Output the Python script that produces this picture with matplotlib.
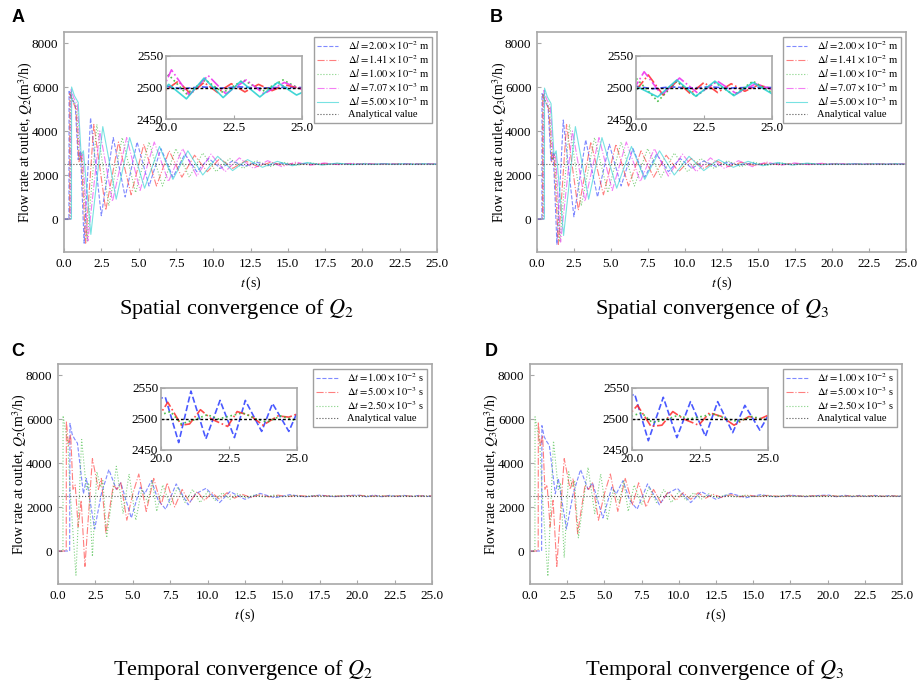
import matplotlib
matplotlib.use('Agg')
import matplotlib.pyplot as plt
import numpy as np

plt.rcParams['font.family'] = ['Liberation Serif', 'DejaVu Serif']
plt.rcParams['mathtext.fontset'] = 'stix'

# --- axis ticks / labels ---
X_TICKS = [0.0, 2.5, 5.0, 7.5, 10.0, 12.5, 15.0, 17.5, 20.0, 22.5, 25.0]
Y_TICKS = [0, 2000, 4000, 6000, 8000]
INSET_X_TICKS = [20.0, 22.5, 25.0]
INSET_Y_TICKS = [2450, 2500, 2550]
ANALYTICAL = 2500

SPATIAL_LABELS = [r'$\Delta l = 2.00 \times 10^{-2}$ m', r'$\Delta l = 1.41 \times 10^{-2}$ m',
                  r'$\Delta l = 1.00 \times 10^{-2}$ m', r'$\Delta l = 7.07 \times 10^{-3}$ m',
                  r'$\Delta l = 5.00 \times 10^{-3}$ m']
TEMPORAL_LABELS = [r'$\Delta t = 1.00 \times 10^{-2}$ s', r'$\Delta t = 5.00 \times 10^{-3}$ s',
                   r'$\Delta t = 2.50 \times 10^{-3}$ s']

# --- panel A: spatial convergence of Q2 (t, Q) turning points ---
A_BLUE = [(0, 0), (0.33, 0), (0.34, 5800), (0.5, 5500), (0.75, 5200), (0.95, 2700), (1.1, 3100), (1.35, -1100),
          (1.78, 4600), (2.5, 150), (3.3, 3700), (4.1, 1000), (4.9, 3500), (5.7, 1500), (6.5, 3200), (7.3, 1900),
          (8.1, 2950), (8.9, 2150), (9.7, 2750), (10.5, 2300), (11.3, 2640), (12.1, 2390), (12.9, 2580),
          (13.7, 2440), (14.5, 2540), (15.3, 2470), (16.1, 2520), (17.0, 2490), (18.0, 2505), (19.0, 2498),
          (20.0, 2502), (20.6, 2498), (21.3, 2501), (22.0, 2499), (22.7, 2501), (23.4, 2499), (24.1, 2500), (25.0, 2500)]
A_RED = [(0, 0), (0.38, 0), (0.39, 5700), (0.55, 5400), (0.8, 5000), (1.0, 2600), (1.15, 3000), (1.45, -1100),
         (2.0, 4300), (2.8, 400), (3.65, 3500), (4.5, 1100), (5.35, 3400), (6.2, 1500), (7.05, 3100), (7.9, 1900),
         (8.75, 2900), (9.6, 2150), (10.45, 2750), (11.3, 2300), (12.15, 2640), (13.0, 2380), (13.85, 2580),
         (14.7, 2440), (15.55, 2540), (16.4, 2470), (17.3, 2520), (18.2, 2490), (19.1, 2508), (19.9, 2493),
         (20.45, 2510), (20.9, 2490), (21.4, 2508), (21.9, 2492), (22.4, 2506), (22.9, 2493), (23.4, 2505),
         (23.9, 2495), (24.4, 2504), (25.0, 2498)]
A_GREEN = [(0, 0), (0.42, 0), (0.43, 5750), (0.6, 5400), (0.85, 5100), (1.05, 2700), (1.2, 2900), (1.55, -1000),
           (2.2, 4300), (3.0, 600), (3.9, 3700), (4.8, 1200), (5.7, 3500), (6.6, 1500), (7.5, 3200), (8.4, 1900),
           (9.3, 3000), (10.2, 2150), (11.1, 2750), (12.0, 2300), (12.9, 2650), (13.8, 2380), (14.7, 2580),
           (15.6, 2440), (16.5, 2550), (17.4, 2470), (18.3, 2530), (19.2, 2480), (20.1, 2520), (20.75, 2490),
           (21.45, 2512), (22.1, 2492), (22.85, 2512), (23.55, 2494), (24.3, 2512), (25.0, 2496)]
A_MAGENTA = [(0, 0), (0.46, 0), (0.47, 5900), (0.65, 5500), (0.9, 5200), (1.1, 2800), (1.25, 3000), (1.6, -1000),
             (2.4, 4000), (3.25, 800), (4.2, 3700), (5.1, 1300), (6.05, 3500), (7.0, 1700), (7.95, 3200), (8.9, 1950),
             (9.85, 2950), (10.8, 2150), (11.75, 2780), (12.7, 2300), (13.65, 2650), (14.6, 2380), (15.55, 2590),
             (16.5, 2440), (17.45, 2550), (18.4, 2470), (19.35, 2535), (19.75, 2485), (20.2, 2528), (20.85, 2488),
             (21.55, 2519), (22.2, 2490), (22.95, 2512), (23.6, 2490), (24.35, 2508), (25.0, 2497)]
A_CYAN = [(0, 0), (0.5, 0), (0.51, 6000), (0.7, 5600), (0.95, 5300), (1.15, 2900), (1.3, 3100), (1.8, -700),
          (2.6, 4200), (3.5, 900), (4.4, 3700), (5.4, 1400), (6.4, 3300), (7.3, 1800), (8.3, 3100), (9.3, 2000),
          (10.3, 2850), (11.3, 2200), (12.3, 2700), (13.3, 2350), (14.3, 2620), (15.3, 2420), (16.3, 2570),
          (17.3, 2450), (18.3, 2540), (19.3, 2470), (20.1, 2505), (20.75, 2482), (21.4, 2515), (22.1, 2484),
          (22.75, 2510), (23.45, 2485), (24.1, 2508), (24.8, 2488), (25.0, 2492)]

# --- panel B: spatial convergence of Q3 ---
B_BLUE = [(0, 0), (0.33, 0), (0.34, 5700), (0.5, 5400), (0.75, 5100), (0.95, 2600), (1.1, 3000), (1.35, -1150),
          (1.78, 4500), (2.5, 100), (3.3, 3600), (4.1, 1000), (4.9, 3400), (5.7, 1500), (6.5, 3200), (7.3, 1900),
          (8.1, 2950), (8.9, 2150), (9.7, 2750), (10.5, 2300), (11.3, 2640), (12.1, 2390), (12.9, 2580),
          (13.7, 2440), (14.5, 2540), (15.3, 2470), (16.1, 2520), (17.0, 2490), (18.0, 2505), (19.0, 2498),
          (20.0, 2502), (20.6, 2498), (21.3, 2501), (22.0, 2499), (22.7, 2501), (23.4, 2499), (24.1, 2500), (25.0, 2500)]
B_RED = [(0, 0), (0.38, 0), (0.39, 5650), (0.55, 5350), (0.8, 5000), (1.0, 2600), (1.15, 2950), (1.45, -1150),
         (2.0, 4300), (2.8, 400), (3.65, 3500), (4.5, 1100), (5.35, 3400), (6.2, 1500), (7.05, 3100), (7.9, 1900),
         (8.75, 2900), (9.6, 2150), (10.45, 2750), (11.3, 2300), (12.15, 2640), (13.0, 2380), (13.85, 2580),
         (14.7, 2440), (15.55, 2540), (16.4, 2470), (17.3, 2520), (18.2, 2490), (19.1, 2508), (19.9, 2490),
         (20.45, 2520), (21.0, 2488), (21.5, 2510), (22.0, 2490), (22.5, 2508), (23.0, 2492), (23.5, 2506),
         (24.0, 2494), (24.5, 2504), (25.0, 2498)]
B_GREEN = [(0, 0), (0.42, 0), (0.43, 5700), (0.6, 5350), (0.85, 5050), (1.05, 2700), (1.2, 2900), (1.55, -1050),
           (2.2, 4300), (3.0, 600), (3.9, 3700), (4.8, 1200), (5.7, 3500), (6.6, 1500), (7.5, 3200), (8.4, 1900),
           (9.3, 3000), (10.2, 2150), (11.1, 2750), (12.0, 2300), (12.9, 2650), (13.8, 2380), (14.7, 2580),
           (15.6, 2440), (16.5, 2550), (17.4, 2470), (18.3, 2530), (19.2, 2480), (20.0, 2515), (20.8, 2478),
           (21.5, 2510), (22.2, 2486), (22.9, 2508), (23.6, 2488), (24.3, 2510), (25.0, 2492)]
B_MAGENTA = [(0, 0), (0.46, 0), (0.47, 5850), (0.65, 5450), (0.9, 5150), (1.1, 2800), (1.25, 3000), (1.6, -1050),
             (2.4, 4000), (3.25, 800), (4.2, 3700), (5.1, 1300), (6.05, 3500), (7.0, 1700), (7.95, 3200), (8.9, 1950),
             (9.85, 2950), (10.8, 2150), (11.75, 2780), (12.7, 2300), (13.65, 2650), (14.6, 2380), (15.55, 2590),
             (16.5, 2440), (17.45, 2550), (18.4, 2470), (19.35, 2535), (19.75, 2485), (20.3, 2525), (20.95, 2488),
             (21.6, 2515), (22.3, 2490), (23.0, 2510), (23.7, 2490), (24.4, 2506), (25.0, 2497)]
B_CYAN = [(0, 0), (0.5, 0), (0.51, 5950), (0.7, 5550), (0.95, 5250), (1.15, 2900), (1.3, 3100), (1.8, -750),
          (2.6, 4200), (3.5, 900), (4.4, 3700), (5.4, 1400), (6.4, 3300), (7.3, 1800), (8.3, 3100), (9.3, 2000),
          (10.3, 2850), (11.3, 2200), (12.3, 2700), (13.3, 2350), (14.3, 2620), (15.3, 2420), (16.3, 2570),
          (17.3, 2450), (18.3, 2540), (19.3, 2470), (20.1, 2500), (20.8, 2485), (21.5, 2512), (22.2, 2486),
          (22.9, 2510), (23.6, 2487), (24.3, 2508), (25.0, 2490)]

# --- panel C: temporal convergence of Q2 ---
C_BLUE = [(0, 0), (0.78, 0), (0.8, 5800), (0.95, 5300), (1.1, 5100), (1.3, 4900), (1.7, 2600), (1.9, 3300),
          (2.45, 1000), (2.9, 2600), (3.4, 3700), (3.9, 2800), (4.2, 3100), (4.9, 1500), (5.5, 2900), (5.8, 2600),
          (6.25, 3200), (6.7, 2300), (7.2, 1900), (7.9, 3050), (8.7, 2100), (9.2, 2600), (9.9, 2850), (10.8, 2200),
          (11.5, 2700), (12.5, 2350), (13.5, 2620), (14.5, 2420), (15.5, 2560), (16.5, 2460), (17.5, 2540),
          (18.5, 2470), (19.5, 2530), (20.16, 2535), (20.65, 2462), (21.1, 2545), (21.65, 2468), (22.17, 2530),
          (22.7, 2470), (23.1, 2530), (23.7, 2480), (24.1, 2525), (24.7, 2480), (25.0, 2510)]
C_RED = [(0, 0), (0.55, 0), (0.56, 5900), (0.7, 4800), (0.85, 5300), (1.0, 2800), (1.15, 3000), (1.35, 1100),
         (1.55, 2300), (1.8, -700), (2.3, 4200), (2.7, 2800), (2.9, 3300), (3.2, 800), (3.7, 3000), (3.95, 2800),
         (4.2, 3100), (4.6, 1400), (5.0, 2600), (5.4, 3500), (5.9, 1800), (6.4, 3300), (6.9, 2100), (7.3, 3100),
         (7.8, 2000), (8.3, 2800), (8.8, 2200), (9.3, 2700), (9.8, 2300), (10.3, 2650), (10.8, 2350), (11.3, 2650),
         (11.8, 2400), (12.3, 2580), (12.9, 2430), (13.5, 2560), (14.1, 2460), (14.7, 2540), (15.3, 2470),
         (16.0, 2530), (16.8, 2480), (17.6, 2520), (18.4, 2490), (19.2, 2512), (20.0, 2510), (20.25, 2527),
         (20.75, 2490), (21.05, 2492), (21.45, 2515), (21.85, 2500), (22.45, 2488), (22.8, 2512), (23.3, 2505),
         (23.75, 2490), (24.3, 2505), (24.7, 2503), (25.0, 2508)]
C_GREEN = [(0, 0), (0.33, 0), (0.34, 6150), (0.5, 5500), (0.65, 5000), (0.8, 2800), (1.2, -1100), (1.58, 5070),
           (1.9, 2800), (2.05, 3100), (2.3, -250), (2.6, 3600), (2.85, 2900), (3.0, 3200), (3.25, 600), (3.9, 3850),
           (4.35, 1700), (4.75, 3500), (5.2, 1400), (5.6, 2800), (6.0, 2200), (6.3, 3200), (6.6, 1800), (7.0, 3000),
           (7.5, 2100), (8.0, 2900), (8.5, 2200), (9.0, 2800), (9.5, 2200), (10.0, 2700), (10.5, 2300), (11.0, 2650),
           (11.5, 2350), (12.0, 2600), (12.6, 2420), (13.2, 2560), (13.8, 2450), (14.4, 2540), (15.0, 2470),
           (15.7, 2530), (16.4, 2480), (17.1, 2520), (17.8, 2490), (18.5, 2510), (19.2, 2495), (20.0, 2507),
           (20.35, 2512), (20.75, 2492), (21.3, 2500), (21.7, 2507), (22.1, 2500), (23.0, 2510), (23.5, 2500),
           (23.9, 2495), (24.4, 2505), (25.0, 2497)]

# --- panel D: temporal convergence of Q3 ---
D_BLUE = [(0, 0), (0.78, 0), (0.8, 5700), (0.95, 5200), (1.1, 5000), (1.3, 4800), (1.7, 2600), (1.9, 3300),
          (2.45, 1000), (2.9, 2600), (3.4, 3700), (3.9, 2800), (4.2, 3100), (4.9, 1500), (5.5, 2900), (5.8, 2600),
          (6.25, 3200), (6.7, 2300), (7.2, 1900), (7.9, 3050), (8.7, 2100), (9.2, 2600), (9.9, 2850), (10.8, 2200),
          (11.5, 2700), (12.5, 2350), (13.5, 2620), (14.5, 2420), (15.5, 2560), (16.5, 2460), (17.5, 2540),
          (18.5, 2470), (19.5, 2530), (20.1, 2540), (20.6, 2465), (21.15, 2535), (21.65, 2470), (22.15, 2528),
          (22.7, 2472), (23.15, 2528), (23.7, 2478), (24.15, 2522), (24.7, 2482), (25.0, 2505)]
D_RED = [(0, 0), (0.55, 0), (0.56, 5850), (0.7, 4750), (0.85, 5250), (1.0, 2800), (1.15, 3000), (1.35, 1100),
         (1.55, 2300), (1.8, -700), (2.3, 4200), (2.7, 2800), (2.9, 3300), (3.2, 800), (3.7, 3000), (3.95, 2800),
         (4.2, 3100), (4.6, 1400), (5.0, 2600), (5.4, 3500), (5.9, 1800), (6.4, 3300), (6.9, 2100), (7.3, 3100),
         (7.8, 2000), (8.3, 2800), (8.8, 2200), (9.3, 2700), (9.8, 2300), (10.3, 2650), (10.8, 2350), (11.3, 2650),
         (11.8, 2400), (12.3, 2580), (12.9, 2430), (13.5, 2560), (14.1, 2460), (14.7, 2540), (15.3, 2470),
         (16.0, 2530), (16.8, 2480), (17.6, 2520), (18.4, 2490), (19.2, 2512), (20.0, 2512), (20.2, 2522),
         (20.7, 2488), (21.1, 2490), (21.5, 2512), (21.9, 2500), (22.45, 2490), (22.85, 2510), (23.3, 2504),
         (23.75, 2490), (24.3, 2504), (24.7, 2500), (25.0, 2506)]
D_GREEN = [(0, 0), (0.33, 0), (0.34, 6100), (0.5, 5450), (0.65, 5000), (0.8, 2800), (1.2, -1150), (1.58, 5000),
           (1.9, 2800), (2.05, 3100), (2.3, -300), (2.6, 3600), (2.85, 2900), (3.0, 3200), (3.25, 600), (3.9, 3800),
           (4.35, 1700), (4.75, 3500), (5.2, 1400), (5.6, 2800), (6.0, 2200), (6.3, 3200), (6.6, 1800), (7.0, 3000),
           (7.5, 2100), (8.0, 2900), (8.5, 2200), (9.0, 2800), (9.5, 2200), (10.0, 2700), (10.5, 2300), (11.0, 2650),
           (11.5, 2350), (12.0, 2600), (12.6, 2420), (13.2, 2560), (13.8, 2450), (14.4, 2540), (15.0, 2470),
           (15.7, 2530), (16.4, 2480), (17.1, 2520), (17.8, 2490), (18.5, 2510), (19.2, 2495), (20.0, 2505),
           (20.35, 2510), (20.75, 2494), (21.3, 2500), (21.7, 2506), (22.1, 2500), (23.0, 2508), (23.5, 2500),
           (23.9, 2496), (24.4, 2504), (25.0, 2498)]

SPATIAL_STYLE = [('#2a3cff', '--'), ('#ff2a2a', '-.'), ('#2fb52f', ':'), ('#ee2aee', '-.'), ('#1fcfcf', '-')]
TEMPORAL_STYLE = [('#2a3cff', '--'), ('#ff2a2a', '-.'), ('#2fb52f', ':')]

W, H = 921, 684
fig = plt.figure(figsize=(W / 100, H / 100), dpi=100)


def px_rect(left, top, right, bottom):
    """Convert pixel box to figure fraction rect."""
    return [left / W, 1 - bottom / H, (right - left) / W, (bottom - top) / H]


def style_axes(ax):
    for sp in ax.spines.values():
        sp.set_color('#a8a8a8')
        sp.set_linewidth(1.2)
    ax.tick_params(direction='in', length=3, color='#a8a8a8', labelsize=9.5, pad=4)


def draw_panel(rect, inset_rect, series, styles, labels, ylabel, caption, cap_xy, letter, letter_xy):
    ax = fig.add_axes(px_rect(*rect))
    for data, (col, ls), lab in zip(series, styles, labels):
        arr = np.array(data, dtype=float)
        ax.plot(arr[:, 0], arr[:, 1], color=col, ls=ls, lw=0.8, alpha=0.6, label=lab)
    ax.plot([0, 25], [ANALYTICAL, ANALYTICAL], color='#555555', ls=':', lw=0.8, label='Analytical value')
    ax.set_xlim(0, 25)
    ax.set_ylim(-1500, 8500)
    ax.set_xticks(X_TICKS)
    ax.set_xticklabels(['%.1f' % v for v in X_TICKS])
    ax.set_yticks(Y_TICKS)
    ax.set_xlabel(r'$t\,$(s)', fontsize=10)
    ax.set_ylabel(ylabel, fontsize=10)
    ax.yaxis.set_label_coords(-0.077, 0.5)
    style_axes(ax)
    leg = ax.legend(loc='upper right', fontsize=7.6, fancybox=False, edgecolor='#888888',
                    handlelength=2.0, labelspacing=0.15, borderpad=0.3, borderaxespad=0.45,
                    handletextpad=0.9)
    leg.get_frame().set_linewidth(1.0)

    ins = fig.add_axes(px_rect(*inset_rect))
    for data, (col, ls) in zip(series, styles):
        arr = np.array(data, dtype=float)
        ins.plot(arr[:, 0], arr[:, 1], color=col, ls=ls, lw=1.2, alpha=0.85)
    ins.plot([20, 25], [ANALYTICAL, ANALYTICAL], color='black', ls=(0, (2, 1.5)), lw=1.0)
    ins.set_xlim(20, 25)
    ins.set_ylim(2450, 2550)
    ins.set_xticks(INSET_X_TICKS)
    ins.set_xticklabels(['%.1f' % v for v in INSET_X_TICKS])
    ins.set_yticks(INSET_Y_TICKS)
    style_axes(ins)
    ins.tick_params(pad=2)

    fig.text(cap_xy[0] / W, 1 - cap_xy[1] / H, caption, ha='center', va='center', fontsize=16)
    fig.text(letter_xy[0] / W, 1 - letter_xy[1] / H, letter, ha='center', va='center',
             fontsize=13, fontweight='bold', family='Liberation Sans')


draw_panel((64, 32, 437, 252), (166, 56, 302, 119), [A_BLUE, A_RED, A_GREEN, A_MAGENTA, A_CYAN],
           SPATIAL_STYLE, SPATIAL_LABELS, r'Flow rate at outlet, $Q_2$(m$^3$/h)',
           r'Spatial convergence of $Q_2$', (236, 309), 'A', (18, 17))
draw_panel((537, 32, 906, 252), (636, 56, 772, 119), [B_BLUE, B_RED, B_GREEN, B_MAGENTA, B_CYAN],
           SPATIAL_STYLE, SPATIAL_LABELS, r'Flow rate at outlet, $Q_3$(m$^3$/h)',
           r'Spatial convergence of $Q_3$', (712, 309), 'B', (496, 17))
draw_panel((58, 364, 432, 584), (161, 388, 297, 450), [C_BLUE, C_RED, C_GREEN],
           TEMPORAL_STYLE, TEMPORAL_LABELS, r'Flow rate at outlet, $Q_2$(m$^3$/h)',
           r'Temporal convergence of $Q_2$', (243, 670), 'C', (18, 351))
draw_panel((530, 364, 902, 584), (632, 388, 768, 450), [D_BLUE, D_RED, D_GREEN],
           TEMPORAL_STYLE, TEMPORAL_LABELS, r'Flow rate at outlet, $Q_3$(m$^3$/h)',
           r'Temporal convergence of $Q_3$', (714, 670), 'D', (491, 351))

fig.savefig('out.png', dpi=100, facecolor='white')
